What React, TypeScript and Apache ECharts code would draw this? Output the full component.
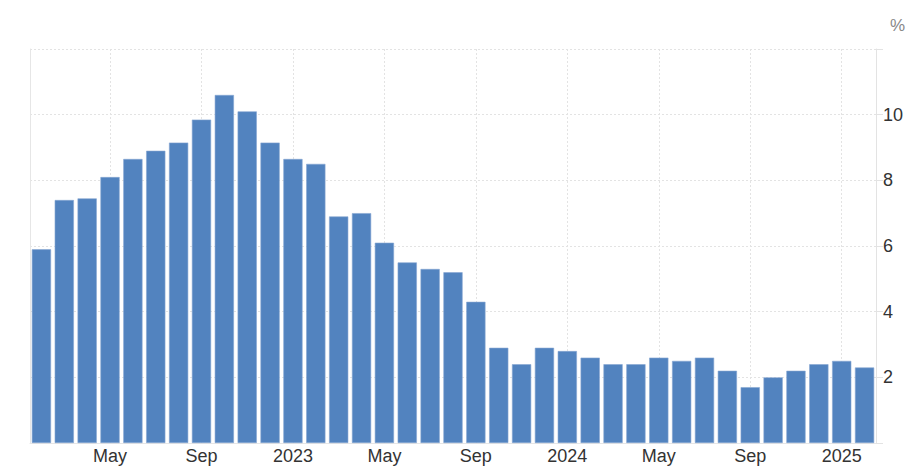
import React, { useEffect, useRef } from "react";
import * as echarts from "echarts";

const months: string[] = [
  "2022-02", "2022-03", "2022-04", "2022-05", "2022-06", "2022-07", "2022-08", "2022-09", "2022-10", "2022-11", "2022-12",
  "2023-01", "2023-02", "2023-03", "2023-04", "2023-05", "2023-06", "2023-07", "2023-08", "2023-09", "2023-10", "2023-11", "2023-12",
  "2024-01", "2024-02", "2024-03", "2024-04", "2024-05", "2024-06", "2024-07", "2024-08", "2024-09", "2024-10", "2024-11", "2024-12",
  "2025-01", "2025-02",
];

const inflation: number[] = [
  5.9, 7.4, 7.45, 8.1, 8.65, 8.9, 9.15, 9.85, 10.6, 10.1, 9.15,
  8.65, 8.5, 6.9, 7.0, 6.1, 5.5, 5.3, 5.2, 4.3, 2.9, 2.4, 2.9,
  2.8, 2.6, 2.4, 2.4, 2.6, 2.5, 2.6, 2.2, 1.7, 2.0, 2.2, 2.4,
  2.5, 2.3,
];

const monthNames: Record<string, string> = { "05": "May", "09": "Sep" };

const isLabeled = (idx: number) => {
  const m = months[idx].slice(5);
  return m === "01" || m === "05" || m === "09";
};

const fmt = (v: string) => {
  const m = v.slice(5);
  if (m === "01") return v.slice(0, 4);
  return monthNames[m] || "";
};

const gridMonths = months.filter((_, i) => isLabeled(i));

const FONT = "Liberation Sans, Arial, Helvetica, sans-serif";
const GRID_COLOR = "#e3e3e3";

export default function App() {
  const ref = useRef<HTMLDivElement>(null);
  useEffect(() => {
    if (!ref.current) return;
    const chart = echarts.init(ref.current, undefined, { renderer: "svg" });
    chart.setOption({
      animation: false,
      title: {
        text: "%",
        right: 0,
        top: 4,
        textStyle: { fontSize: 17, fontWeight: "normal", color: "#888", fontFamily: FONT },
      },
      grid: { left: 22, right: 34, top: 41, bottom: 25 },
      xAxis: {
        type: "category",
        data: months,
        boundaryGap: true,
        axisLine: { show: true, lineStyle: { color: "#e6e6e6", width: 1 } },
        axisTick: { show: false },
        axisLabel: {
          interval: (i: number) => isLabeled(i),
          formatter: fmt,
          color: "#333",
          fontSize: 18,
          margin: 4,
          fontFamily: FONT,
        },
        splitLine: { show: false },
      },
      yAxis: [
        {
          type: "value",
          position: "right",
          min: 0,
          max: 12,
          interval: 2,
          axisLine: { show: true, lineStyle: { color: GRID_COLOR } },
          axisTick: { show: true, length: 7, lineStyle: { color: GRID_COLOR } },
          axisLabel: {
            color: "#333",
            fontSize: 18,
            margin: 7,
            fontFamily: FONT,
            formatter: (v: number) => (v === 0 || v === 12 ? "" : String(v)),
          },
          splitLine: { show: true, lineStyle: { color: GRID_COLOR, type: [2, 2], width: 1 } },
        },
        {
          type: "value",
          position: "left",
          min: 0,
          max: 12,
          interval: 2,
          axisLine: { show: true, lineStyle: { color: "#e6e6e6" } },
          axisTick: { show: false },
          axisLabel: { show: false },
          splitLine: { show: false },
        },
      ],
      series: [
        {
          type: "line",
          data: [],
          yAxisIndex: 0,
          z: 0,
          silent: true,
          markLine: {
            z: 0,
            silent: true,
            symbol: "none",
            label: { show: false },
            lineStyle: { color: GRID_COLOR, type: [2, 2], width: 1 },
            data: gridMonths.map((m) => ({ xAxis: m })),
          },
        },
        {
          type: "bar",
          data: inflation,
          yAxisIndex: 0,
          z: 3,
          barCategoryGap: "16%",
          itemStyle: { color: "#5283bf", borderColor: "#86a6d2", borderWidth: 0.6 },
        },
      ],
    });
    return () => chart.dispose();
  }, []);
  return <div ref={ref} style={{ width: 902, height: 460 }} />;
}
